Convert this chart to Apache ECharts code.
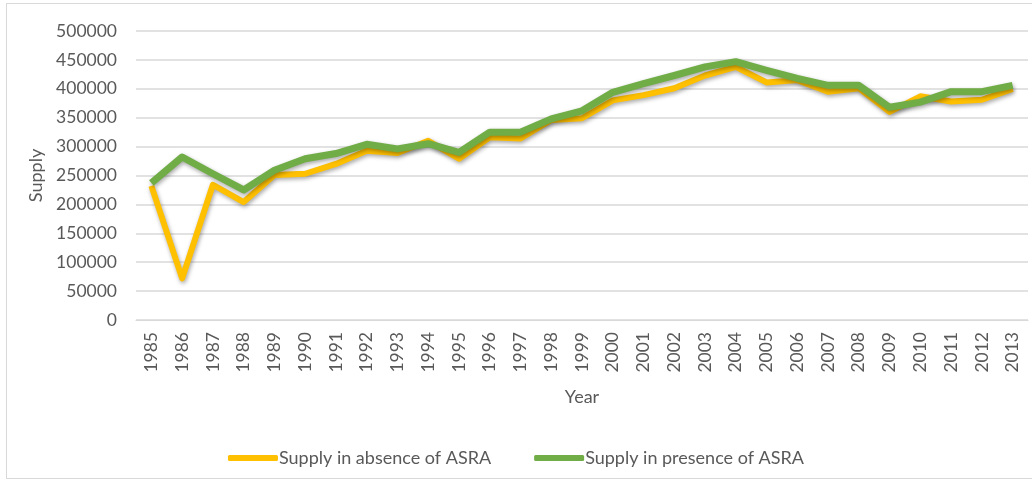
<!DOCTYPE html>
<html><head><meta charset="utf-8">
<script src="https://cdn.jsdelivr.net/npm/echarts@6/dist/echarts.min.js"></script>
<style>html,body{margin:0;padding:0;background:#fff}#c{width:1032px;height:481px}
#frame{position:absolute;left:6px;top:3px;width:1030px;height:476px;border:1px solid #d9d9d9;box-sizing:border-box;pointer-events:none}</style>
</head><body><div id="c"></div><div id="frame"></div>
<script>
const years = ['1985','1986','1987','1988','1989','1990','1991','1992','1993','1994','1995','1996','1997','1998','1999','2000','2001','2002','2003','2004','2005','2006','2007','2008','2009','2010','2011','2012','2013'];
const absenceASRA = [232000,72000,234000,204000,251000,253000,270000,293000,289000,310000,279000,316000,314000,346000,349000,380000,389000,401000,423000,438000,411000,415000,395000,401000,360000,387000,378000,381000,400000];
const presenceASRA = [237000,282000,253000,225000,259000,279000,288000,304000,296000,305000,290000,325000,325000,348000,362000,394000,409000,423000,438000,447000,432000,418000,406000,406000,368000,377000,395000,395000,406000];
const yTicks = [0,50000,100000,150000,200000,250000,300000,350000,400000,450000,500000];

const font = 'Lato, "Open Sans", sans-serif';
const chart = echarts.init(document.getElementById('c'), null, {renderer:'canvas'});
const shadow = {shadowColor:'rgba(0,0,0,0.35)', shadowBlur:4, shadowOffsetY:2, shadowOffsetX:1};
chart.setOption({
  animation:false,
  textStyle:{fontFamily:font},
  grid:{left:136, right:4, top:31, bottom:161, containLabel:false},
  legend:{
    bottom:9, left:'center', itemWidth:50, itemHeight:6, itemGap:43,
    icon:'roundRect',
    textStyle:{fontFamily:font, fontSize:18, color:'#595959', padding:[0,0,0,-4]},
    data:['Supply in absence of ASRA','Supply in presence of ASRA']
  },
  xAxis:{
    type:'category', data:years, boundaryGap:true,
    name:'Year', nameLocation:'middle', nameGap:68,
    nameTextStyle:{fontFamily:font, fontSize:18, color:'#595959'},
    axisLine:{lineStyle:{color:'#d9d9d9', width:1}},
    axisTick:{show:false},
    axisLabel:{rotate:90, interval:0, fontSize:17.5, color:'#595959', margin:12, fontFamily:font}
  },
  yAxis:{
    type:'value', min:yTicks[0], max:yTicks[yTicks.length-1], interval:50000,
    name:'Supply', nameLocation:'middle', nameGap:90, nameRotate:90,
    nameTextStyle:{fontFamily:font, fontSize:18, color:'#595959'},
    axisLine:{show:false}, axisTick:{show:false},
    axisLabel:{fontSize:17.5, color:'#595959', margin:19, fontFamily:font, formatter:function(v){return String(v);}},
    splitLine:{lineStyle:{color:'#d9d9d9', width:1.5}}
  },
  series:[
    {name:'Supply in absence of ASRA', type:'line', data:absenceASRA, symbol:'none', smooth:false,
     itemStyle:{color:'#FFC000'}, lineStyle:Object.assign({color:'#FFC000', width:6, join:'round'}, shadow), z:2},
    {name:'Supply in presence of ASRA', type:'line', data:presenceASRA, symbol:'none', smooth:false,
     itemStyle:{color:'#70AD47'}, lineStyle:Object.assign({color:'#70AD47', width:7, join:'round'}, shadow), z:3}
  ]
});
</script></body></html>
